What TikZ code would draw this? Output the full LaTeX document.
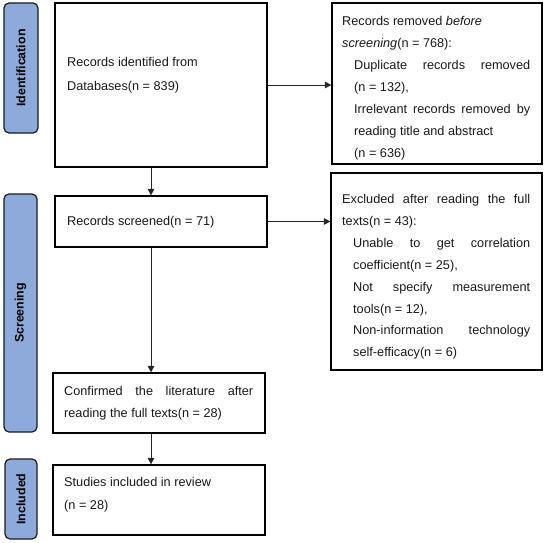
\documentclass[tikz,border=0pt]{standalone}
\usepackage{fontspec}
\setmainfont{Liberation Sans}
\usetikzlibrary{arrows.meta}
\definecolor{stageblue}{HTML}{8EAADB}
\definecolor{stageedge}{HTML}{1A1A1A}
\tikzset{
  box/.style={draw=black, line width=1.2pt, fill=white, inner sep=0pt},
  stage/.style={draw=stageedge, line width=1.2pt, fill=stageblue, rounded corners=5pt,
    rotate=90, inner sep=0pt, font=\fontsize{12.4}{14}\selectfont\bfseries},
  txt/.style={anchor=base west, inner sep=0pt, align=justify, text=black!90},
  arr/.style={draw=black!85, line width=0.9pt, -{Triangle[length=6.5pt,width=6.5pt]}},
}
\begin{document}
\begin{tikzpicture}[x=1pt,y=-1pt]
\useasboundingbox (0,0) rectangle (546,543);
% stage bars
\node[stage, minimum width=130pt, minimum height=34pt] (s1) at (21,68) {Identification};
\node[stage, minimum width=238pt, minimum height=33pt] (s2) at (20.5,313) {Screening};
\node[stage, minimum width=80pt, minimum height=32pt] (s3) at (21,499) {Included};
% boxes
\node[box, minimum width=212pt, minimum height=164pt] (b1) at (161,85) {};
\node[box, minimum width=212pt, minimum height=51pt] (b2) at (161,221.5) {};
\node[box, minimum width=212pt, minimum height=60pt] (b3) at (159,403) {};
\node[box, minimum width=212pt, minimum height=70pt] (b4) at (159,500) {};
\node[box, minimum width=210pt, minimum height=161pt] (r1) at (437,83.5) {};
\node[box, minimum width=211pt, minimum height=197pt] (r2) at (436.5,271.5) {};
% texts
\node[txt, text width=190pt, font=\fontsize{12.7}{24}\selectfont] (t1) at (67,66.5)
  {Records identified from\\Databases(n = 839)};
\node[txt, text width=190pt, font=\fontsize{12.7}{22}\selectfont] (t2) at (67,225.5)
  {Records screened(n = 71)};
\node[txt, text width=189pt, font=\fontsize{12.7}{21.5}\selectfont] (t3) at (64,395.5)
  {Confirmed the literature after\linebreak reading the full texts(n = 28)};
\node[txt, text width=189pt, font=\fontsize{12.7}{23}\selectfont] (t4) at (64,486.5)
  {Studies included in review\\(n = 28)};
\node[txt, text width=188pt, font=\fontsize{12.7}{22}\selectfont] (tr1) at (342,26)
  {Records removed \textit{before}\\\textit{screening}(n = 768):\par
   {\leftskip=12pt Duplicate records removed\linebreak
   (n = 132),\\
   Irrelevant records removed by\linebreak
   reading title and abstract\\
   (n = 636)\par}};
\node[txt, text width=188pt, font=\fontsize{12.7}{21.9}\selectfont] (tr2) at (342,203.5)
  {Excluded after reading the full\linebreak texts(n = 43):\par
   {\leftskip=11pt Unable to get correlation\linebreak
   coefficient(n = 25),\\
   Not specify measurement\linebreak
   tools(n = 12),\\
   Non-information technology\linebreak
   self-efficacy(n = 6)\par}};
% connectors
\coordinate (ax) at (151,0);
\draw[arr] (b1.east) -- (b1.east -| r1.west);
\draw[arr] (b2.east) -- (b2.east -| r2.west);
\draw[arr] (b1.south -| ax) -- (b2.north -| ax);
\draw[arr] (b2.south -| ax) -- (b3.north -| ax);
\draw[arr] (b3.south -| ax) -- (b4.north -| ax);
\end{tikzpicture}
\end{document}
